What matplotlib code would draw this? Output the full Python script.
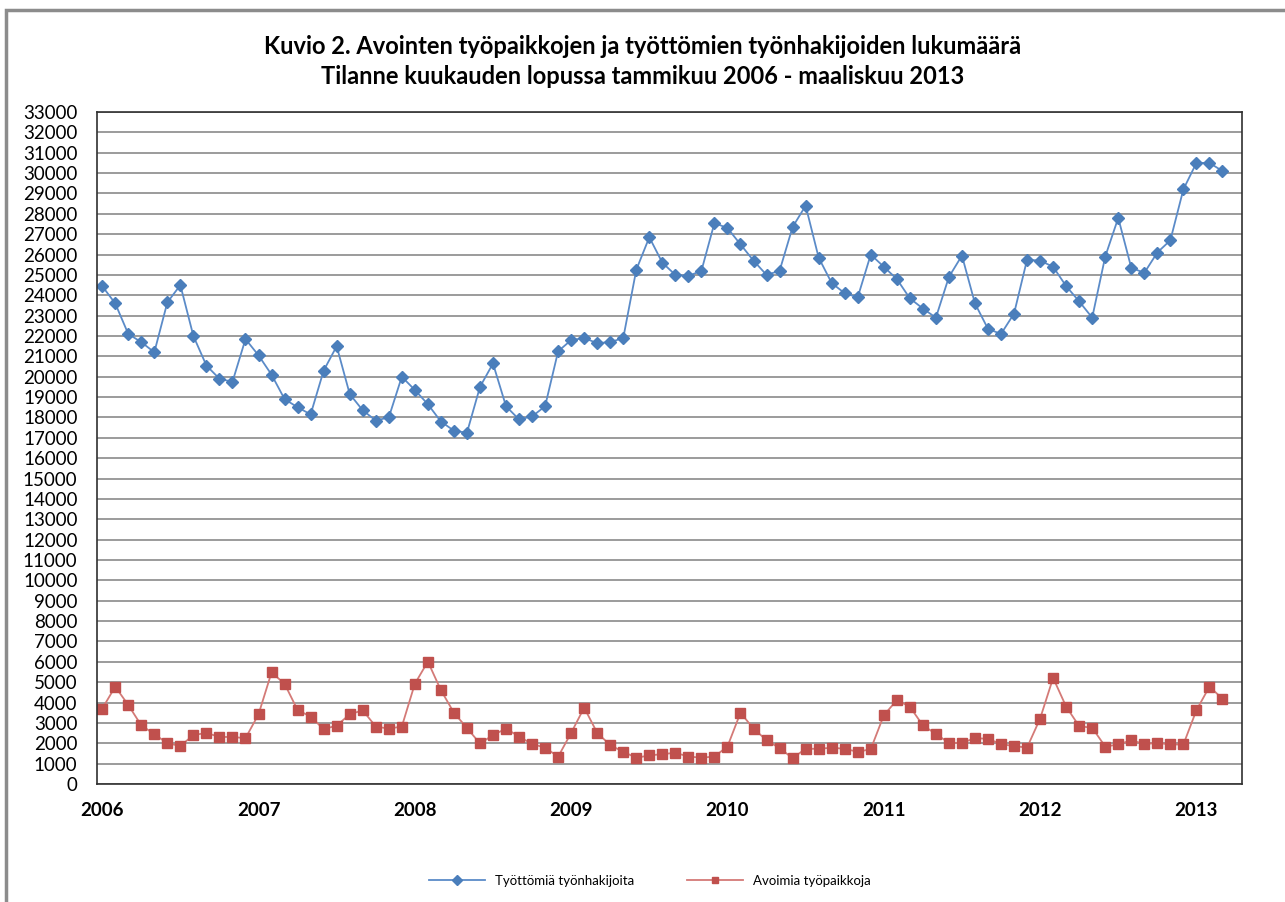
import numpy as np
import matplotlib
matplotlib.use("Agg")
import matplotlib.pyplot as plt
from matplotlib.patches import Rectangle

# Monthly values, Jan 2006 - Mar 2013
tyottomia = [24450, 23600, 22100, 21700, 21200, 23650, 24500, 22000, 20550, 19900, 19750, 21850,
             21050, 20100, 18900, 18500, 18150, 20300, 21500, 19150, 18350, 17850, 18000, 20000,
             19350, 18650, 17800, 17350, 17250, 19500, 20650, 18550, 17900, 18050, 18550, 21250,
             21800, 21900, 21650, 21700, 21900, 25250, 26850, 25600, 25000, 24950, 25200, 27550,
             27300, 26500, 25700, 25000, 25200, 27350, 28400, 25850, 24600, 24100, 23900, 26000,
             25400, 24800, 23850, 23350, 22900, 24900, 25950, 23600, 22350, 22100, 23100, 25750,
             25700, 25400, 24450, 23700, 22900, 25900, 27800, 25350, 25100, 26100, 26700, 29200,
             30500, 30500, 30100]
avoimia = [3700, 4780, 3880, 2880, 2450, 2000, 1870, 2400, 2510, 2310, 2310, 2250,
           3420, 5480, 4920, 3630, 3310, 2690, 2870, 3420, 3620, 2820, 2720, 2820,
           4920, 6010, 4610, 3500, 2750, 1990, 2400, 2720, 2330, 1960, 1790, 1340,
           2510, 3750, 2510, 1910, 1580, 1290, 1400, 1470, 1530, 1350, 1290, 1350,
           1840, 3500, 2720, 2150, 1760, 1270, 1730, 1730, 1780, 1730, 1580, 1710,
           3370, 4120, 3800, 2880, 2460, 2020, 2020, 2250, 2220, 1960, 1860, 1790,
           3210, 5210, 3800, 2840, 2760, 1840, 1940, 2150, 1960, 2020, 1940, 1940,
           3620, 4780, 4190]
years = ["2006", "2007", "2008", "2009", "2010", "2011", "2012", "2013"]

font = "Lato"
plt.rcParams["font.family"] = [font, "DejaVu Sans"]

fig = plt.figure(figsize=(12.85, 9.02), dpi=100)
ax = fig.add_axes([97 / 1285, 1 - 784 / 902, (1242 - 97) / 1285, (784 - 112) / 902])

x = np.arange(len(tyottomia))
ax.plot(x, tyottomia, color="#5B8BC8", lw=1.3, marker="D", markersize=6.5,
        markerfacecolor="#4A7EBB", markeredgecolor="#4A7EBB", label="Työttömiä työnhakijoita")
ax.plot(x, avoimia, color="#D47A77", lw=1.3, marker="s", markersize=6.5,
        markerfacecolor="#C0504D", markeredgecolor="#C0504D", label="Avoimia työpaikkoja")

ax.set_ylim(0, 33000)
ax.set_yticks(np.arange(0, 33001, 1000))
ax.set_xlim(-0.4, 87.5)
ax.set_xticks(np.arange(len(years)) * 12)
ax.set_xticklabels(years, fontweight="bold")
ax.tick_params(axis="both", length=0, labelsize=13.5)
ax.tick_params(axis="y", pad=14)
ax.tick_params(axis="x", pad=13)
ax.grid(axis="y", color="#8a8a8a", lw=1.2)
ax.set_axisbelow(True)
for s in ax.spines.values():
    s.set_color("#303030")
    s.set_linewidth(1.2)

fig.text(0.5, 1 - 47 / 902, "Kuvio 2. Avointen työpaikkojen ja työttömien työnhakijoiden lukumäärä",
         ha="center", va="center", fontsize=17, fontweight="bold")
fig.text(0.5, 1 - 77 / 902, "Tilanne kuukauden lopussa tammikuu 2006 - maaliskuu 2013",
         ha="center", va="center", fontsize=17, fontweight="bold")

fig.legend(loc="center", bbox_to_anchor=(650 / 1285, 1 - 881 / 902), ncol=2, frameon=False,
           fontsize=9.5, handlelength=4.2, columnspacing=4, markerscale=0.75)

fig.patches.append(Rectangle((6 / 1285, -0.1), 2, 1.1 - 10 / 902, transform=fig.transFigure,
                             fill=False, edgecolor="#8c8c8c", lw=2.5))

fig.savefig("out.png", dpi=100)
